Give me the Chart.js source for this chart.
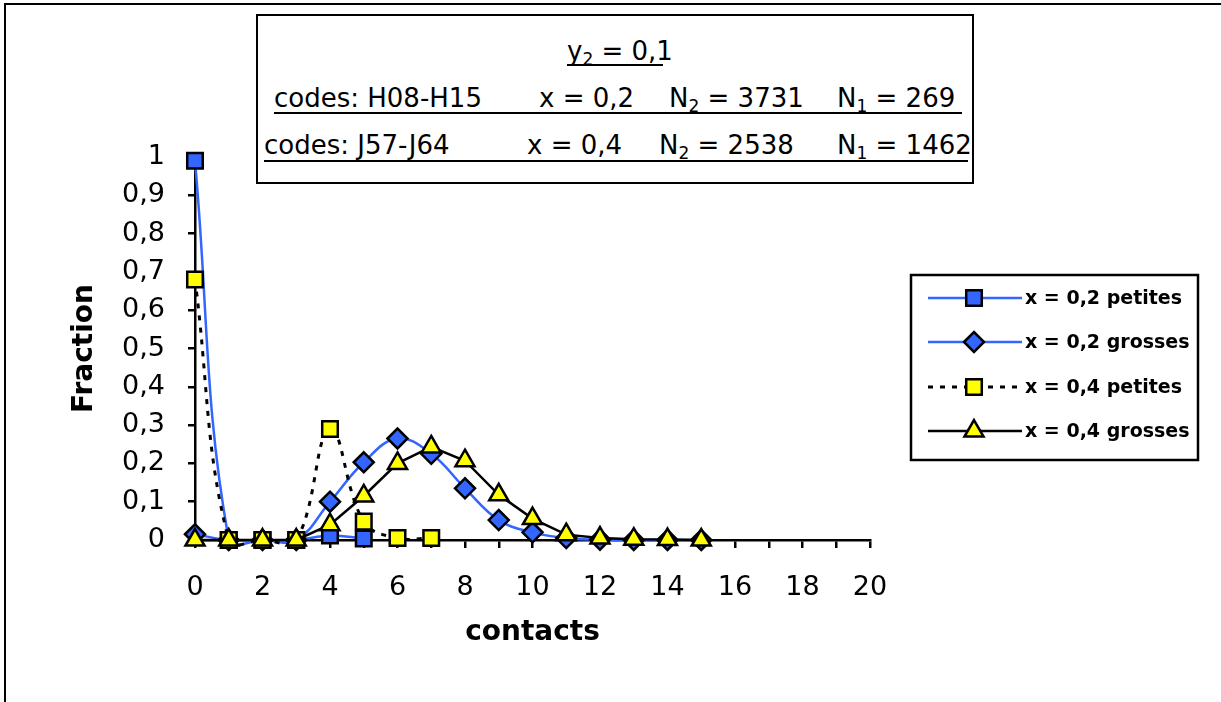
<!DOCTYPE html>
<html>
<head>
<meta charset="utf-8">
<script src="https://cdn.jsdelivr.net/npm/chart.js@4.4.1/dist/chart.umd.min.js"></script>
<style>
  html, body { margin: 0; padding: 0; background: #fff; }
  #wrap { position: relative; width: 1221px; height: 702px; overflow: hidden;
          font-family: "DejaVu Sans", sans-serif; color: #000; }
  #frame { position: absolute; left: 4px; top: 3px; width: 1240px; height: 720px;
           border-left: 2px solid #000; border-top: 2px solid #000; }
  #chartBox { position: absolute; left: 0; top: 0; width: 1221px; height: 702px; }
  #note { position: absolute; left: 256px; top: 14px; width: 714px; height: 166px;
          border: 2px solid #000; background: #fff; }
  .seg { position: absolute; font-size: 26px; line-height: 30px; white-space: pre; }
  .seg sub { font-size: 17px; vertical-align: -5px; line-height: 0; }
  .ul { position: absolute; height: 2px; background: #000; }
</style>
</head>
<body>
<div id="wrap">
  <div id="frame"></div>
  <div id="chartBox"><canvas id="chart"></canvas></div>
  <div id="note">
    <span class="seg" style="left:309px;top:20px">y<sub>2</sub> = 0,1</span>
    <div class="ul" style="left:309px;width:96px;top:48px"></div>

    <span class="seg" style="left:16px;top:67px">codes: H08-H15</span>
    <span class="seg" style="left:281px;top:67px">x = 0,2</span>
    <span class="seg" style="left:411px;top:67px">N<sub>2</sub> = 3731</span>
    <span class="seg" style="left:579px;top:67px">N<sub>1</sub> = 269</span>
    <div class="ul" style="left:16px;width:688px;top:96px"></div>

    <span class="seg" style="left:6px;top:114px">codes: J57-J64</span>
    <span class="seg" style="left:269px;top:114px">x = 0,4</span>
    <span class="seg" style="left:401px;top:114px">N<sub>2</sub> = 2538</span>
    <span class="seg" style="left:579px;top:114px">N<sub>1</sub> = 1462</span>
    <div class="ul" style="left:6px;width:704px;top:144px"></div>
  </div>
</div>
<script>
// contacts (x) and fraction (y) per series
const CONTACTS = [0, 1, 2, 3, 4, 5, 6, 7, 8, 9, 10, 11, 12, 13, 14, 15];
const PETITES_02 = [0.99, 0, 0, 0, 0.012, 0.004];
const GROSSES_02 = [0.015, 0, 0, 0, 0.1, 0.203, 0.265, 0.225, 0.135, 0.052, 0.02, 0.005, 0.001, 0, 0, 0];
const PETITES_04 = [0.68, 0, 0, 0, 0.29, 0.048, 0.005, 0.005];
const GROSSES_04 = [0, 0, 0, 0, 0.04, 0.115, 0.2, 0.243, 0.207, 0.118, 0.056, 0.014, 0.005, 0.002, 0.001, 0];
const LABELS = ["x = 0,2 petites", "x = 0,2 grosses", "x = 0,4 petites", "x = 0,4 grosses"];

const BLUE = "#3366ff";
const YELLOW = "#ffff00";
const FONT = '"DejaVu Sans", sans-serif';

Chart.defaults.color = "#000";
Chart.defaults.font.family = FONT;

const pts = ys => ys.map((y, i) => ({ x: CONTACTS[i], y }));

function series(label, ys, o) {
  return Object.assign({
    label, data: pts(ys), showLine: true, clip: false,
    borderWidth: 2.5, pointBorderColor: "#000", pointBorderWidth: 2.5,
    pointRadius: 11, pointHoverRadius: 11,
  }, o);
}

const datasets = [
  series(LABELS[0], PETITES_02, { borderColor: BLUE, tension: 0.4, pointStyle: "rect",
    pointBackgroundColor: BLUE, order: 4 }),
  series(LABELS[1], GROSSES_02, { borderColor: BLUE, tension: 0.4, pointStyle: "rectRot",
    pointRadius: 10, pointHoverRadius: 10, pointBackgroundColor: BLUE, order: 3 }),
  series(LABELS[2], PETITES_04, { borderColor: "#000", borderWidth: 3, borderDash: [5, 7],
    tension: 0.4, pointStyle: "rect", pointBackgroundColor: YELLOW, order: 2 }),
  series(LABELS[3], GROSSES_04, { borderColor: "#000", tension: 0, pointStyle: "triangle",
    pointRadius: 11, pointHoverRadius: 11, pointBackgroundColor: YELLOW, order: 1 }),
];

// legend box at the right, line + marker + bold text like the original
const boxLegend = {
  id: "boxLegend",
  afterDraw(chart) {
    const ctx = chart.ctx;
    const L = 911, T = 275, W = 287, H = 185;
    ctx.save();
    ctx.fillStyle = "#fff";
    ctx.fillRect(L, T, W, H);
    ctx.lineWidth = 2.5;
    ctx.strokeStyle = "#000";
    ctx.strokeRect(L, T, W, H);
    const rows = [298, 342, 387, 431];
    datasets.forEach((ds, i) => {
      const y = rows[i];
      ctx.save();
      ctx.strokeStyle = ds.borderColor;
      ctx.lineWidth = ds.borderWidth;
      ctx.setLineDash(ds.borderDash || []);
      ctx.beginPath();
      ctx.moveTo(928, y);
      ctx.lineTo(1022, y);
      ctx.stroke();
      ctx.restore();
      ctx.save();
      ctx.fillStyle = ds.pointBackgroundColor;
      ctx.strokeStyle = "#000";
      ctx.lineWidth = 2.5;
      Chart.helpers.drawPoint(ctx, { pointStyle: ds.pointStyle, radius: ds.pointRadius, rotation: 0, borderWidth: 2.5 }, 974, y);
      ctx.restore();
      ctx.fillStyle = "#000";
      ctx.font = "bold 19px " + FONT;
      ctx.textBaseline = "middle";
      ctx.textAlign = "left";
      ctx.fillText(ds.label, 1025, y + 1);
    });
    ctx.restore();
  }
};

new Chart(document.getElementById("chart"), {
  type: "scatter",
  data: { datasets },
  plugins: [boxLegend],
  options: {
    responsive: true,
    maintainAspectRatio: false,
    animation: false,
    events: [],
    layout: { padding: { left: 68, top: 157, right: 351, bottom: 52 } },
    elements: { line: { capBezierPoints: false } },
    plugins: { legend: { display: false }, tooltip: { enabled: false } },
    scales: {
      x: {
        type: "linear", min: 0, max: 20,
        afterFit: s => { s.height = 110; },
        border: { display: true, color: "#000", width: 2.5 },
        grid: { drawOnChartArea: false, drawTicks: true, tickLength: 8, color: "#000", lineWidth: 2.5 },
        ticks: { stepSize: 1, autoSkip: false, maxRotation: 0, padding: 24,
                 font: { size: 27 }, callback: v => (v % 2 === 0 ? String(v) : "") },
        title: { display: true, text: "contacts", font: { size: 28, weight: "bold" }, padding: 0 },
      },
      y: {
        type: "linear", min: 0, max: 1,
        afterFit: s => { s.width = 127; },
        border: { display: true, color: "#000", width: 2.5 },
        grid: { drawOnChartArea: false, drawTicks: true, tickLength: 7, color: "#000", lineWidth: 2.5 },
        ticks: { stepSize: 0.1, autoSkip: false, padding: 23, font: { size: 27 },
                 callback: v => String(Number(v.toFixed(1))).replace(".", ",") },
        title: { display: true, text: "Fraction", font: { size: 28, weight: "bold" }, padding: 0 },
      },
    },
  },
});
</script>
</body>
</html>
